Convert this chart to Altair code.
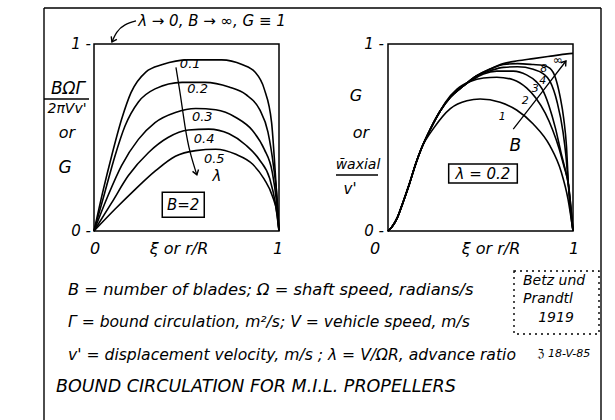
import altair as alt
import pandas as pd

FONT = "DejaVu Sans"

# ---- Left panel: B = 2, G(xi) for several advance ratios ----
LAMBDA_NAMES = ["0.1", "0.2", "0.3", "0.4", "0.5"]
XI_L = [
    [0, 0.05, 0.095, 0.15, 0.20, 0.28, 0.37, 0.51, 0.69, 0.80, 0.87, 0.92, 0.96, 0.98, 1.0],
    [0, 0.058, 0.113, 0.167, 0.24, 0.33, 0.476, 0.60, 0.73, 0.82, 0.895, 0.94, 0.97, 0.99, 1.0],
    [0, 0.076, 0.149, 0.24, 0.33, 0.44, 0.55, 0.658, 0.767, 0.858, 0.92, 0.964, 0.985, 1.0],
    [0, 0.095, 0.185, 0.295, 0.40, 0.51, 0.62, 0.73, 0.82, 0.895, 0.95, 0.98, 1.0],
    [0, 0.113, 0.22, 0.33, 0.44, 0.55, 0.658, 0.767, 0.858, 0.92, 0.964, 0.99, 1.0],
]
G_L = [
    [0, 0.22, 0.40, 0.60, 0.74, 0.85, 0.89, 0.915, 0.915, 0.89, 0.85, 0.76, 0.58, 0.31, 0],
    [0, 0.205, 0.40, 0.56, 0.69, 0.76, 0.795, 0.795, 0.77, 0.73, 0.65, 0.53, 0.35, 0.17, 0],
    [0, 0.19, 0.35, 0.49, 0.58, 0.634, 0.655, 0.648, 0.607, 0.536, 0.4375, 0.3125, 0.17, 0],
    [0, 0.15, 0.295, 0.42, 0.50, 0.54, 0.545, 0.52, 0.46, 0.38, 0.28, 0.15, 0],
    [0, 0.116, 0.22, 0.32, 0.40, 0.43, 0.4375, 0.41, 0.357, 0.277, 0.1875, 0.09, 0],
]

# ---- Right panel: lambda = 0.2, G(xi) for several blade numbers ----
BLADE_NAMES = ["1", "2", "3", "4", "8", "∞"]
XI_R = [
    [0, 0.02, 0.05, 0.08, 0.115, 0.15, 0.18, 0.247, 0.337, 0.4265, 0.498, 0.606, 0.695, 0.785, 0.875, 0.937, 0.973, 1.0],
    [0, 0.02, 0.05, 0.08, 0.115, 0.15, 0.18, 0.229, 0.283, 0.31, 0.373, 0.444, 0.516, 0.588, 0.677, 0.749, 0.80, 0.85, 0.89, 0.925, 0.95, 0.975, 1.0],
    [0, 0.02, 0.05, 0.08, 0.115, 0.15, 0.18, 0.229, 0.283, 0.337, 0.409, 0.444, 0.516, 0.588, 0.677, 0.749, 0.80, 0.833, 0.87, 0.905, 0.935, 0.96, 0.975, 1.0],
    [0, 0.02, 0.05, 0.08, 0.115, 0.15, 0.18, 0.229, 0.283, 0.337, 0.409, 0.48, 0.552, 0.624, 0.70, 0.785, 0.84, 0.876, 0.914, 0.946, 0.962, 0.975, 1.0],
    [0, 0.02, 0.05, 0.08, 0.115, 0.15, 0.18, 0.229, 0.283, 0.337, 0.409, 0.48, 0.552, 0.624, 0.70, 0.785, 0.84, 0.876, 0.905, 0.93, 0.95, 0.965, 0.975, 1.0],
    [0, 0.02, 0.05, 0.08, 0.115, 0.15, 0.18, 0.229, 0.283, 0.337, 0.409, 0.48, 0.552, 0.624, 0.70, 0.785, 0.88, 0.968, 1.0],
]
G_R = [
    [0, 0.02, 0.07, 0.15, 0.25, 0.36, 0.44, 0.55, 0.655, 0.697, 0.706, 0.688, 0.647, 0.572, 0.456, 0.314, 0.171, 0],
    [0, 0.02, 0.07, 0.15, 0.25, 0.36, 0.44, 0.545, 0.643, 0.688, 0.759, 0.799, 0.818, 0.822, 0.809, 0.765, 0.71, 0.63, 0.54, 0.44, 0.35, 0.25, 0],
    [0, 0.02, 0.07, 0.15, 0.25, 0.36, 0.44, 0.545, 0.643, 0.715, 0.777, 0.80, 0.84, 0.855, 0.855, 0.835, 0.80, 0.76, 0.67, 0.55, 0.42, 0.32, 0.25, 0],
    [0, 0.02, 0.07, 0.15, 0.25, 0.36, 0.44, 0.545, 0.643, 0.715, 0.777, 0.83, 0.857, 0.875, 0.878, 0.865, 0.84, 0.80, 0.69, 0.53, 0.40, 0.25, 0],
    [0, 0.02, 0.07, 0.15, 0.25, 0.36, 0.44, 0.545, 0.643, 0.715, 0.777, 0.83, 0.866, 0.89, 0.895, 0.89, 0.885, 0.87, 0.82, 0.72, 0.60, 0.45, 0.25, 0],
    [0, 0.02, 0.07, 0.15, 0.25, 0.36, 0.44, 0.545, 0.643, 0.715, 0.777, 0.83, 0.866, 0.895, 0.91, 0.922, 0.935, 0.947, 0.95],
]

TOP_NOTE = "λ → 0, B → ∞, G ≡ 1"
LEFT_YLABEL = ["BΩΓ", "2πVv'", "or", "G"]
RIGHT_YLABEL = ["G", "or", "w̄axial", "v'"]
XLABEL = "ξ  or  r/R"
NOTES = [
    "B = number of blades;  Ω = shaft speed, radians/s",
    "Γ = bound circulation, m²/s;  V = vehicle speed, m/s",
    "v' = displacement velocity, m/s  ;  λ = V/ΩR, advance ratio",
]
TITLE = "BOUND CIRCULATION FOR M.I.L. PROPELLERS"
CREDIT = ["Betz und", "Prandtl", "1919"]
SIGNATURE = "ℨ 18-V-85"

W, H = 185, 187
INK = "black"


def long_frame(names, xs, gs):
    rows = []
    for name, xc, gc in zip(names, xs, gs):
        for i, (a, b) in enumerate(zip(xc, gc)):
            rows.append({"curve": name, "i": i, "xi": a, "g": b})
    return pd.DataFrame(rows)


ONE = pd.DataFrame({"k": [0]})
sx = alt.Scale(domain=[0, 1], nice=False, zero=False)
sy = alt.Scale(domain=[0, 1], nice=False, zero=False)
X = alt.X("xi:Q", scale=sx, axis=None)
Y = alt.Y("g:Q", scale=sy, axis=None)


def txt(s, px, py, size=15, align="center", italic=True, **kw):
    return alt.Chart(ONE).mark_text(
        font=FONT, fontSize=size, align=align, baseline="middle",
        fontStyle="italic" if italic else "normal", color=INK, **kw
    ).encode(x=alt.value(px), y=alt.value(py), text=alt.value(s))


def hbar(x1, x2, py, width=1.3):
    return alt.Chart(ONE).mark_rule(color=INK, strokeWidth=width).encode(
        x=alt.value(x1), x2=alt.value(x2), y=alt.value(py))


def vbar(px, y1, y2, width=1.3):
    return alt.Chart(ONE).mark_rule(color=INK, strokeWidth=width).encode(
        x=alt.value(px), y=alt.value(y1), y2=alt.value(y2))


def data_labels(items, size):
    df = pd.DataFrame(items, columns=["t", "xi", "g"])
    return alt.Chart(df).mark_text(
        font=FONT, fontSize=size, fontStyle="italic", color=INK, align="center", baseline="middle"
    ).encode(x=X, y=Y, text="t:N")


def arrow(points, angle):
    df = pd.DataFrame(points, columns=["xi", "g"]).reset_index()
    line = alt.Chart(df).mark_line(color=INK, strokeWidth=1.3, interpolate="natural").encode(
        x=X, y=Y, order="index:Q")
    head = alt.Chart(df.tail(1)).mark_point(
        shape="M-0.75,1.1L0,0L0.75,1.1", filled=False, color=INK, strokeWidth=1.4,
        size=70, angle=angle, opacity=1
    ).encode(x=X, y=Y)
    return line + head


def box(x1, x2, y1, y2):
    df = pd.DataFrame({"x1": [x1], "x2": [x2], "y1": [y1], "y2": [y2]})
    return alt.Chart(df).mark_rect(fill="white", stroke=INK, strokeWidth=1.5).encode(
        x=alt.X("x1:Q", scale=sx, axis=None), x2="x2:Q",
        y=alt.Y("y1:Q", scale=sy, axis=None), y2="y2:Q")


# ---------------- left panel ----------------
left_df = long_frame(LAMBDA_NAMES, XI_L, G_L)
left_curves = alt.Chart(left_df).mark_line(
    color=INK, strokeWidth=1.6, interpolate="monotone"
).encode(x=X, y=Y, detail="curve:N", order="i:Q")

left_labels = data_labels(
    [(LAMBDA_NAMES[0], 0.52, 0.895), (LAMBDA_NAMES[1], 0.56, 0.757),
     (LAMBDA_NAMES[2], 0.585, 0.607), (LAMBDA_NAMES[3], 0.595, 0.492),
     (LAMBDA_NAMES[4], 0.65, 0.385)], 13)
lam_mark = data_labels([("λ", 0.665, 0.296)], 15)

left = alt.layer(
    # outer sheet border
    vbar(-50, -36, 400, width=1.4), hbar(-50, 507, -36, width=1.4), vbar(507, -36, 400, width=1.4),
    left_curves, left_labels, lam_mark,
    arrow([(0.443, 0.875), (0.468, 0.72), (0.492, 0.56), (0.52, 0.42), (0.556, 0.30)], 163),
    arrow([(0.227, 1.123), (0.168, 1.102), (0.124, 1.064), (0.097, 1.011)], 207),
    box(0.369, 0.596, 0.074, 0.207), data_labels([("B=2", 0.482, 0.14)], 15),
    txt(TOP_NOTE, 118, -23, 15),
    txt("1 -", -3, 0, 15, align="right"),
    txt("0 -", -3, 187, 15, align="right"),
    txt("0", 1, 205, 16), txt("1", 184, 205, 16), txt(XLABEL, 85, 205, 16),
    txt(LEFT_YLABEL[0], -26, 45, 17), hbar(-50, -5, 55),
    txt(LEFT_YLABEL[1], -27, 65, 14), txt(LEFT_YLABEL[2], -27, 89, 16),
    txt(LEFT_YLABEL[3], -29, 124, 17),
    txt(NOTES[0], -26, 246, 16.3, align="left"),
    txt(NOTES[1], -26, 278, 15.6, align="left"),
    txt(NOTES[2], -26, 311, 15.6, align="left"),
    txt(TITLE, -38, 343, 17.5, align="left"),
).properties(width=W, height=H)

# ---------------- right panel ----------------
right_df = long_frame(BLADE_NAMES, XI_R, G_R)
right_curves = alt.Chart(right_df).mark_line(
    color=INK, strokeWidth=1.6, interpolate="monotone"
).encode(x=X, y=Y, detail="curve:N", order="i:Q")

right_labels = data_labels(
    [(BLADE_NAMES[0], 0.618, 0.61), (BLADE_NAMES[1], 0.742, 0.695),
     (BLADE_NAMES[2], 0.796, 0.759), (BLADE_NAMES[3], 0.836, 0.803),
     (BLADE_NAMES[4], 0.842, 0.868)], 11)
inf_label = data_labels([(BLADE_NAMES[5], 0.917, 0.916)], 12)
b_mark = data_labels([("B", 0.688, 0.455)], 17)

credit_box = alt.Chart(ONE).mark_rect(
    fill="white", fillOpacity=0, stroke=INK, strokeWidth=1.4, strokeDash=[2, 4]
).encode(x=alt.value(126), x2=alt.value(211), y=alt.value(227), y2=alt.value(290))

right = alt.layer(
    right_curves, right_labels, inf_label, b_mark,
    arrow([(0.677, 0.545), (0.82, 0.727), (0.962, 0.909)], 38),
    box(0.328, 0.699, 0.257, 0.358), data_labels([("λ = 0.2", 0.513, 0.307)], 15),
    txt("1 -", -4, 0, 15, align="right"),
    txt("0 -", -4, 187, 15, align="right"),
    txt("0", -13, 205, 16), txt("1", 186, 205, 16), txt(XLABEL, 103, 205, 16),
    txt(RIGHT_YLABEL[0], -32, 52, 16), txt(RIGHT_YLABEL[1], -27, 89, 16),
    txt(RIGHT_YLABEL[2], -30, 121, 14), hbar(-52, -10, 131),
    txt(RIGHT_YLABEL[3], -38, 145, 15),
    credit_box,
    txt(CREDIT[0], 135, 237, 14, align="left"),
    txt(CREDIT[1], 135, 255, 14, align="left"),
    txt(CREDIT[2], 168, 274, 14),
    txt(SIGNATURE, 176, 310, 11),
).properties(width=W, height=H)

chart = alt.hconcat(left, right, spacing=109, bounds="flush").properties(
    padding={"left": 42, "top": 6, "right": 4, "bottom": 0},
    background="white",
).configure_view(stroke=INK, strokeWidth=1.5)

chart.save("out.html", embed_options={"renderer": "svg", "actions": False})
